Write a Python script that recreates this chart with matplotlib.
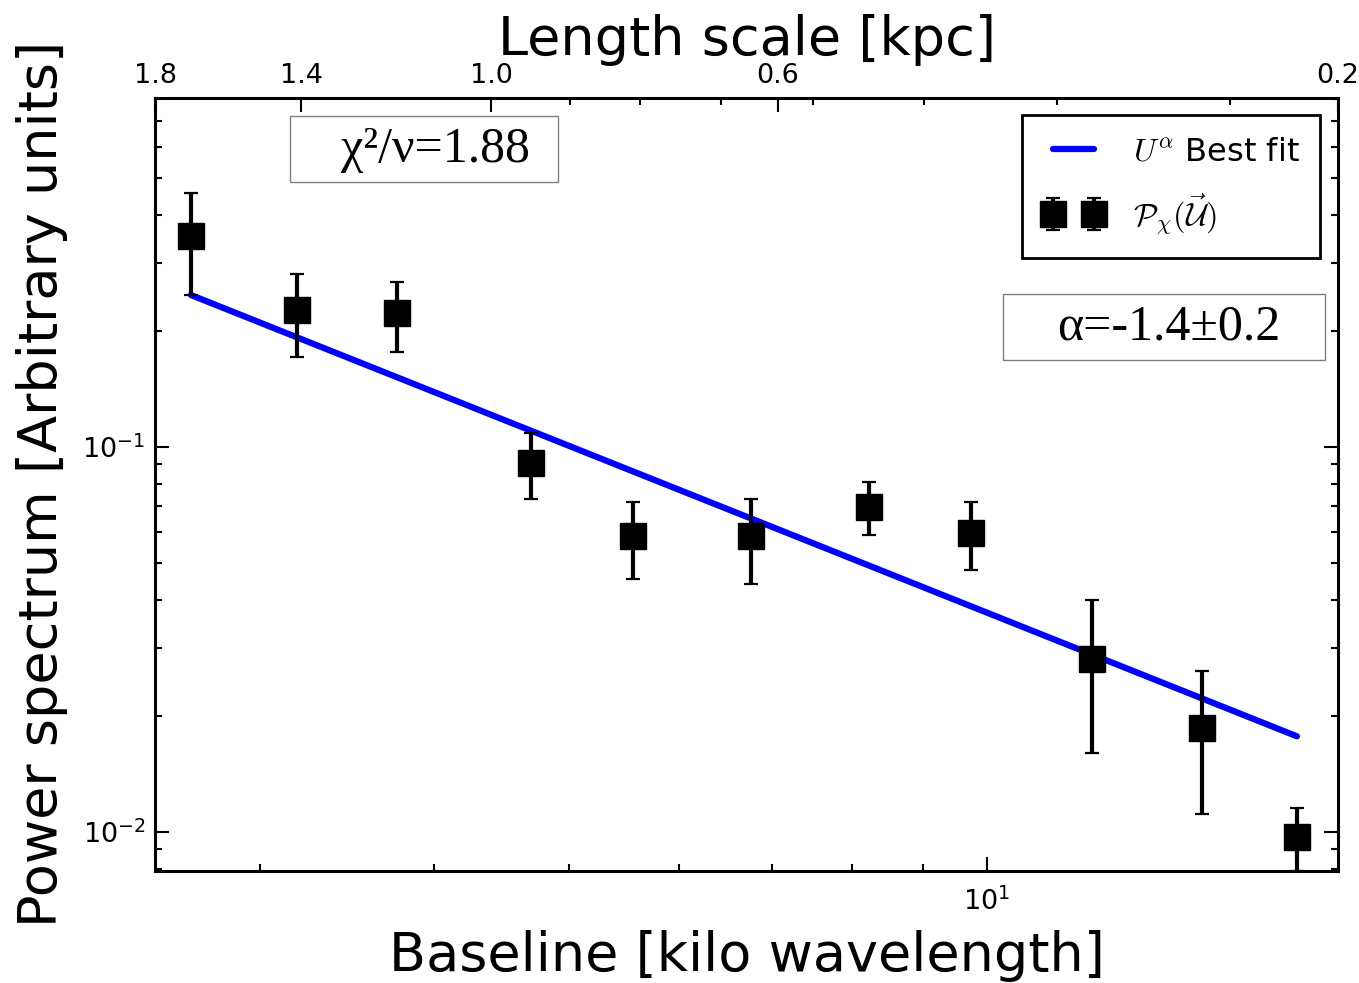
import matplotlib
matplotlib.use("Agg")
import matplotlib.pyplot as plt
from matplotlib.patches import Rectangle
from matplotlib.ticker import NullFormatter
import numpy as np

plt.rcParams['font.family'] = ['DejaVu Sans']
plt.rcParams['mathtext.fontset'] = 'cm'

# Measured power spectrum of the magnetic field tracer
baseline = [2.674, 3.187, 3.762, 4.699, 5.567, 6.769, 8.228, 9.739, 11.90, 14.28, 16.72]
power = [0.352, 0.226, 0.222, 0.0907, 0.0586, 0.0586, 0.0698, 0.0598, 0.0280, 0.0186, 0.00969]
power_err = [0.104, 0.0555, 0.046, 0.0178, 0.0133, 0.0146, 0.0109, 0.0119, 0.0120, 0.0075, 0.0018]

# Power-law fit  P = A * U^alpha
alpha = -1.44
amplitude = 1.021
chi2_nu = 1.88

# Axis ranges
x_range = (2.52, 17.9)
y_range = (0.0079, 0.807)

# Length-scale axis on top (positions given in baseline units)
top_major = [2.52, 3.21, 4.40, 7.07, 17.9]
top_labels = ['1.8', '1.4', '1.0', '0.6', '0.2']
top_minor = [5.01, 5.63, 6.44, 7.50, 9.01, 11.23, 14.96]

fig = plt.figure(figsize=(13.59, 9.83), dpi=100)
ax = fig.add_axes([0.1141, 0.1139, 0.8705, 0.7869])

u = np.array(baseline)
fit = amplitude * u ** alpha
ax.plot(u, fit, color='#0000ff', lw=4.5, solid_capstyle='round',
        label=r'$U^{\alpha}$ Best fit', zorder=3)
ax.errorbar(baseline, power, yerr=power_err, fmt='s', color='black',
            ms=18.5, elinewidth=3.0, capsize=5, capthick=1.6,
            label=r'$\mathcal{P}_{\chi}(\vec{\mathcal{U}})$', zorder=4)

ax.set_xscale('log')
ax.set_yscale('log')
ax.set_xlim(*x_range)
ax.set_ylim(*y_range)
ax.xaxis.set_minor_formatter(NullFormatter())
ax.yaxis.set_minor_formatter(NullFormatter())

ax.set_xlabel('Baseline [kilo wavelength]', fontsize=39, labelpad=10)
ax.set_ylabel('Power spectrum [Arbitrary units]', fontsize=39, labelpad=10)

for sp in ax.spines.values():
    sp.set_linewidth(2.2)

ax2 = ax.twiny()
ax2.set_xscale('log')
ax2.set_xlim(*x_range)
ax2.set_xticks(top_major)
ax2.set_xticklabels(top_labels)
ax2.set_xticks(top_minor, minor=True)
ax2.xaxis.set_minor_formatter(NullFormatter())
ax2.set_xlabel('Length scale [kpc]', fontsize=39, labelpad=6)
ax2.tick_params(axis='x', which='major', direction='in', length=10, width=1.5,
                labelsize=19.5, pad=6)
ax2.tick_params(axis='x', which='minor', direction='in', length=5, width=1.5)

ax.tick_params(axis='both', which='major', direction='in', length=10, width=1.5,
               labelsize=19.5, pad=7)
ax.tick_params(axis='x', which='major', pad=12)
ax.tick_params(axis='both', which='minor', direction='in', length=5, width=1.5)
ax.tick_params(axis='y', which='both', left=True, right=True)
ax.tick_params(axis='x', which='both', bottom=True, top=False)

leg = ax.legend(loc='upper right', bbox_to_anchor=(0.985, 0.977),
                borderaxespad=0, numpoints=2, fontsize=23, fancybox=False,
                framealpha=1, handlelength=1.9, handletextpad=0.9,
                labelspacing=0.75, borderpad=0.65)
leg.get_frame().set_edgecolor('black')
leg.get_frame().set_linewidth(2)

# Annotation boxes
ax.add_patch(Rectangle((0.114, 0.891), 0.2267, 0.085, transform=ax.transAxes,
                       fill=False, edgecolor='#808080', lw=1.0, zorder=5))
ax.text(0.237, 0.933, '\u03c7\u00b2/\u03bd=%.2f' % chi2_nu, transform=ax.transAxes,
        ha='center', va='center', fontsize=36, family='Liberation Serif', zorder=6)

ax.add_patch(Rectangle((0.717, 0.661), 0.2722, 0.0853, transform=ax.transAxes,
                       fill=False, edgecolor='#808080', lw=1.0, zorder=5))
ax.text(0.857, 0.703, '\u03b1=-1.4\u00b10.2', transform=ax.transAxes,
        ha='center', va='center', fontsize=36, family='Liberation Serif', zorder=6)

fig.savefig('out.png', dpi=100)
